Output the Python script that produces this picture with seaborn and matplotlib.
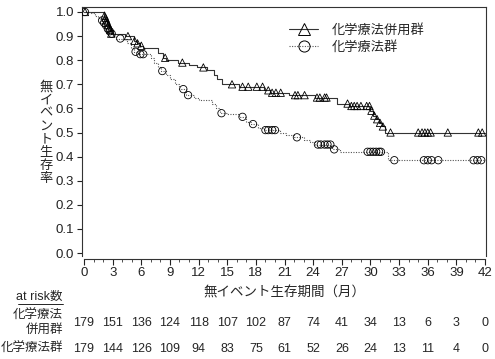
import numpy as np
import pandas as pd
import seaborn as sns
import matplotlib.pyplot as plt
from matplotlib.lines import Line2D
from matplotlib.ticker import MultipleLocator
from matplotlib import transforms

sns.set_theme(style="ticks")
plt.rcParams['font.family'] = ['Liberation Sans', 'Noto Sans CJK JP']

# group labels
groups = ["化学療法併用群", "化学療法群"]

# combination group: step times / survival after each drop / censor times
combo_t = [2.1, 2.2, 2.3, 2.4, 2.5, 2.6, 2.7, 2.8, 4.3, 5.2, 5.5, 5.9, 6.2,
           7.7, 8.3, 8.6, 9.8, 11.0, 11.8, 12.9, 13.6, 13.9, 14.5, 16.2,
           18.9, 19.5, 21.5, 24.2, 26.5, 27.8, 30.0, 30.3, 30.6, 30.9, 31.2, 31.5]
combo_s = [0.985, 0.975, 0.965, 0.955, 0.945, 0.935, 0.925, 0.91, 0.90, 0.88, 0.87, 0.86, 0.85,
           0.83, 0.81, 0.80, 0.79, 0.78, 0.77, 0.76, 0.74, 0.72, 0.70, 0.69,
           0.675, 0.665, 0.655, 0.645, 0.62, 0.61, 0.59, 0.57, 0.555, 0.54, 0.525, 0.50]
combo_cens = [0.1, 2.15, 2.25, 2.35, 2.45, 2.55, 2.65, 2.75, 2.85, 4.6, 5.3, 5.6, 6.0,
              8.5, 10.3, 12.5, 15.5, 16.6, 17.2, 18.1, 18.7, 19.3, 19.7, 20.1, 20.6,
              22.1, 22.4, 23.1, 24.4, 24.7, 25.2, 25.4, 27.6, 28.0, 28.3, 28.6, 29.0,
              29.6, 29.9, 30.1, 30.4, 30.7, 31.0, 31.3, 32.1, 35.0, 35.4, 35.7, 36.0,
              36.3, 38.1, 41.3, 41.7]

# chemotherapy group
chemo_t = [0.6, 1.1, 1.5, 1.9, 2.0, 2.2, 2.4, 2.6, 2.8, 3.0, 3.4, 4.5, 4.9, 5.2, 5.7,
           7.0, 7.3, 7.8, 8.1, 8.6, 9.0, 9.5, 10.0, 10.7, 11.5, 12.0, 13.4, 13.8, 14.2,
           15.0, 16.2, 17.0, 17.5, 18.2, 18.8, 20.5, 21.2, 22.0, 23.0, 23.7, 24.2,
           25.9, 26.0, 26.8, 31.8]
chemo_s = [0.995, 0.985, 0.975, 0.965, 0.955, 0.945, 0.93, 0.92, 0.91, 0.90, 0.89, 0.87, 0.85, 0.835, 0.825,
           0.81, 0.79, 0.77, 0.755, 0.74, 0.72, 0.70, 0.68, 0.655, 0.645, 0.635, 0.62, 0.60, 0.58,
           0.575, 0.565, 0.545, 0.535, 0.52, 0.51, 0.50, 0.49, 0.48, 0.47, 0.46, 0.45,
           0.44, 0.43, 0.42, 0.385]
chemo_cens = [0.1, 1.9, 2.1, 2.3, 2.5, 2.7, 2.9, 3.8, 5.4, 5.9, 6.2, 8.2, 10.4, 10.9,
              14.4, 16.6, 17.7, 19.0, 19.3, 19.7, 20.0, 22.3, 24.5, 24.8, 25.2, 25.5, 25.8,
              26.2, 29.7, 30.0, 30.3, 30.6, 30.9, 31.1, 32.5, 35.6, 36.0, 36.4, 37.1,
              40.8, 41.2, 41.6]

# numbers at risk
risk_times = list(range(0, 43, 3))
risk_combo = [179, 151, 136, 124, 118, 107, 102, 87, 74, 41, 34, 13, 6, 3, 0]
risk_chemo = [179, 144, 126, 109, 94, 83, 75, 61, 52, 26, 24, 13, 11, 4, 0]


def km_frame(step_t, step_s, end):
    return pd.DataFrame({"time": [0] + step_t + [end],
                         "surv": [1.0] + step_s + [step_s[-1]]})


def censor_frame(step_t, step_s, cens):
    tt = np.array([0] + step_t)
    ss = np.array([1.0] + step_s)
    idx = np.searchsorted(tt, cens, side="right") - 1
    return pd.DataFrame({"time": cens, "surv": ss[idx]})


fig = plt.figure(figsize=(4.95, 3.59), dpi=100)
W, H = 495, 359
ax = fig.add_axes([82 / W, 1 - 256 / H, 404 / W, 249 / H])

sns.lineplot(data=km_frame(combo_t, combo_s, 42), x="time", y="surv", drawstyle="steps-post",
             estimator=None, sort=False, color="#333333", linewidth=0.8, ax=ax)
sns.lineplot(data=km_frame(chemo_t, chemo_s, 42), x="time", y="surv", drawstyle="steps-post",
             estimator=None, sort=False, color="#555555", linewidth=0.8,
             linestyle=(0, (1, 1.3)), ax=ax)
sns.scatterplot(data=censor_frame(combo_t, combo_s, combo_cens), x="time", y="surv",
                marker="^", s=28, facecolor="none", edgecolor="black", linewidth=0.6,
                zorder=3, ax=ax)
sns.scatterplot(data=censor_frame(chemo_t, chemo_s, chemo_cens), x="time", y="surv",
                marker="o", s=28, facecolor="none", edgecolor="black", linewidth=0.6,
                zorder=3, ax=ax)

ax.set_xlim(-0.21, 42.1)
ax.set_ylim(-0.0124, 1.0207)
ax.xaxis.set_major_locator(MultipleLocator(3))
ax.xaxis.set_minor_locator(MultipleLocator(1))
ax.set_yticks(np.arange(0, 1.01, 0.1))
ax.set_yticklabels([f"{v:.1f}" for v in np.arange(0, 1.01, 0.1)])
ax.set_xlabel("")
ax.set_ylabel("")
for sp in ax.spines.values():
    sp.set_visible(True)
    sp.set_color("#333333")
    sp.set_linewidth(0.8)
ax.spines["bottom"].set_position(("outward", 2))
ax.spines["bottom"].set_bounds(0, 42)
ax.tick_params(axis="both", labelsize=9.5, colors="#222222", width=0.8, pad=2)
ax.tick_params(axis="x", which="major", length=4)
ax.tick_params(axis="x", which="minor", length=2.5, width=0.6, color="#333333")
ax.tick_params(axis="y", length=3.5)

# vertical y label
fig.text(46 / W, 1 - 133 / H, "\n".join("無イベント生存率"), ha="center", va="center",
         fontsize=9.5, linespacing=1.12)

# legend
handles = [Line2D([], [], color="#333333", lw=0.8, marker="^", markersize=8,
                  markerfacecolor="none", markeredgecolor="black", markeredgewidth=0.7),
           Line2D([], [], color="#555555", lw=0.8, ls=(0, (1, 1.3)), marker="o", markersize=8,
                  markerfacecolor="none", markeredgecolor="black", markeredgewidth=0.7)]
ax.legend(handles, groups, loc="upper left", bbox_to_anchor=(0.5, 0.955), frameon=False,
          fontsize=9.5, handlelength=2.2, handletextpad=1.0, labelspacing=0.35,
          borderaxespad=0)

# x label and at-risk table
trans = transforms.blended_transform_factory(ax.transData, fig.transFigure)
fig.text(0.5 * (84 + 485) / W, 1 - 293 / H, "無イベント生存期間（月）", ha="center", va="center",
         fontsize=9.7)
fig.text(63 / W, 1 - 297 / H, "at risk数", ha="right", va="center", fontsize=9)
fig.add_artist(Line2D([18 / W, 63 / W], [1 - 304 / H, 1 - 304 / H], color="black", lw=0.6,
                      transform=fig.transFigure))
fig.text(63 / W, 1 - 323 / H, "化学療法\n併用群", ha="right", va="center", fontsize=9,
         multialignment="right", linespacing=1.25)
fig.text(63 / W, 1 - 349 / H, "化学療法群", ha="right", va="center", fontsize=9)
for t, a, b in zip(risk_times, risk_combo, risk_chemo):
    ax.text(t, 1 - 323 / H, str(a), transform=trans, ha="center", va="center", fontsize=9)
    ax.text(t, 1 - 349 / H, str(b), transform=trans, ha="center", va="center", fontsize=9)

fig.savefig("out.png", dpi=100)
